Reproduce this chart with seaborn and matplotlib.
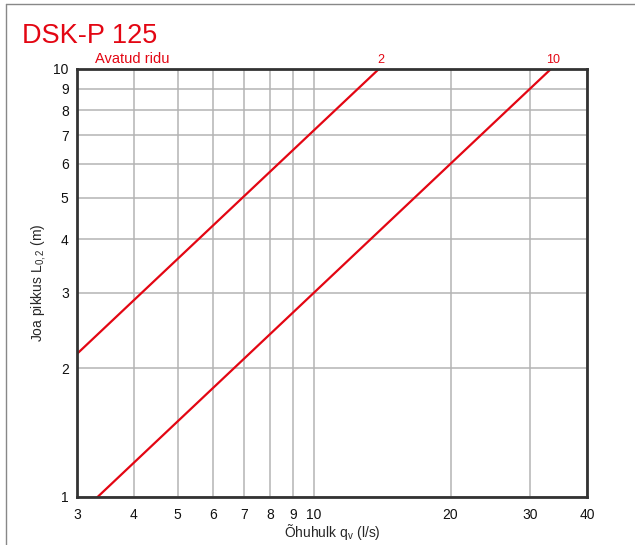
import matplotlib
matplotlib.use("Agg")
import matplotlib.pyplot as plt
import seaborn as sns
import pandas as pd
from matplotlib.ticker import FixedLocator, NullLocator, FixedFormatter
from matplotlib.lines import Line2D

# Data
series_labels = ["2", "10"]
line2_x = [3.0, 13.9]
line2_y = [2.16, 10.0]
line10_x = [3.33, 33.3]
line10_y = [1.0, 10.0]

x_ticks = [3, 4, 5, 6, 7, 8, 9, 10, 20, 30, 40]
y_ticks = [1, 2, 3, 4, 5, 6, 7, 8, 9, 10]

df = pd.DataFrame({
    "x": line2_x + line10_x,
    "y": line2_y + line10_y,
    "s": [series_labels[0]] * len(line2_x) + [series_labels[1]] * len(line10_x),
})

sns.set_style("white")
plt.rcParams["font.family"] = ["Liberation Sans", "DejaVu Sans"]
plt.rcParams["mathtext.fontset"] = "custom"
plt.rcParams["mathtext.rm"] = "Liberation Sans"
plt.rcParams["mathtext.it"] = "Liberation Sans"

RED = "#e30613"

fig = plt.figure(figsize=(6.35, 5.45), dpi=100)
ax = fig.add_axes([77 / 635, 1 - 497 / 545, 510 / 635, 428 / 545])

sns.lineplot(data=df, x="x", y="y", units="s", estimator=None,
             color=RED, lw=1.6, ax=ax, legend=False)

ax.set_xscale("log")
ax.set_yscale("log")
ax.set_xlim(3, 40)
ax.set_ylim(1, 10)

ax.xaxis.set_major_locator(FixedLocator(x_ticks))
ax.xaxis.set_major_formatter(FixedFormatter([str(t) for t in x_ticks]))
ax.xaxis.set_minor_locator(NullLocator())
ax.yaxis.set_major_locator(FixedLocator(y_ticks))
ax.yaxis.set_major_formatter(FixedFormatter([str(t) for t in y_ticks]))
ax.yaxis.set_minor_locator(NullLocator())

ax.grid(True, which="major", color="#b4b4b4", lw=1.1)
ax.set_axisbelow(True)
for sp in ax.spines.values():
    sp.set_color("#333333")
    sp.set_linewidth(2)
ax.tick_params(axis="both", length=0, labelsize=10, colors="#111111", pad=8)
ax.tick_params(axis="y", pad=6)

ax.set_xlabel(r"Õhuhulk q$_\mathrm{v}$ (l/s)", fontsize=10, labelpad=0)
ax.set_ylabel(r"Joa pikkus L$_\mathrm{0,2}$ (m)", fontsize=10, labelpad=4)

# Line labels at top ends
ax.text(line2_x[-1] * 1.01, 10.15, series_labels[0], color=RED, fontsize=9,
        ha="center", va="bottom")
ax.text(line10_x[-1] * 1.01, 10.15, series_labels[1], color=RED, fontsize=9,
        ha="center", va="bottom")
ax.text(3.28, 10.15, "Avatud ridu", color=RED, fontsize=10.5,
        ha="left", va="bottom")

fig.text(22 / 635, 1 - 36 / 545, "DSK-P 125", color=RED, fontsize=19.5,
         ha="left", va="center")

# Figure frame (left and top)
fig.add_artist(Line2D([6 / 635, 6 / 635], [0, 1 - 3.5 / 545],
                      transform=fig.transFigure, color="#888888", lw=1))
fig.add_artist(Line2D([6 / 635, 1], [1 - 3.5 / 545, 1 - 3.5 / 545],
                      transform=fig.transFigure, color="#888888", lw=1))

fig.savefig("out.png", dpi=100)
